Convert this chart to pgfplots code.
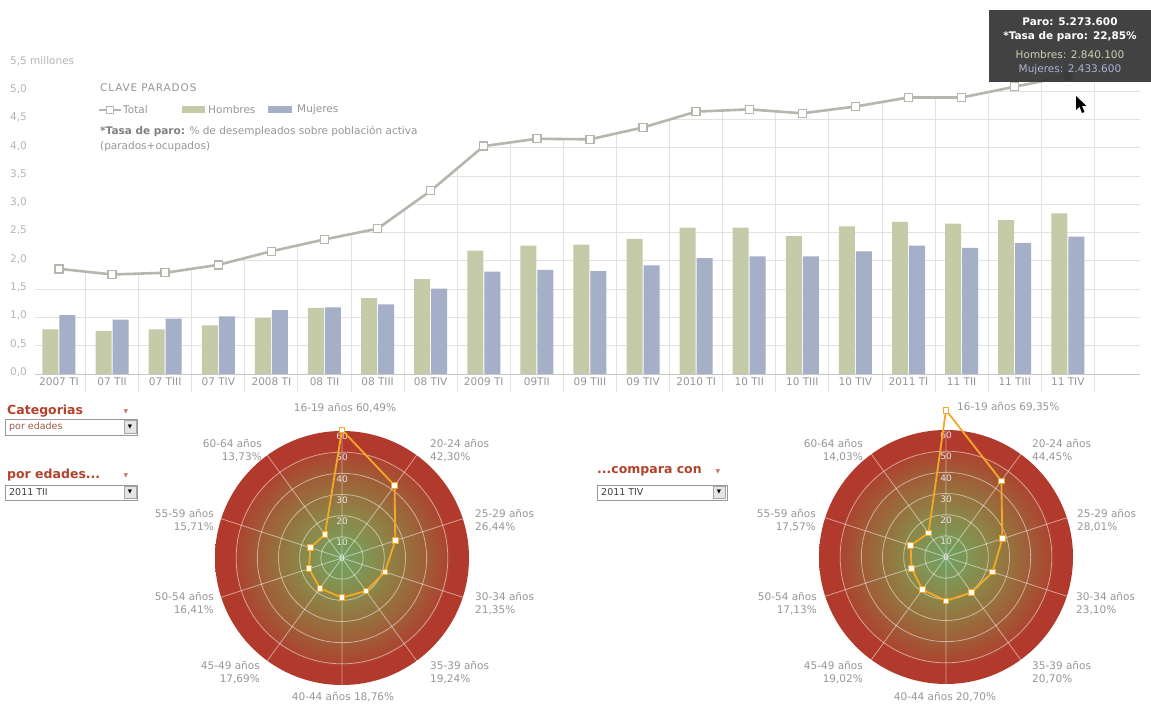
\documentclass[border=0pt]{standalone}
\usepackage{fontspec}
\setmainfont{DejaVu Sans}
\usepackage{pgfplots}
\usepackage{pgfplotstable}
\pgfplotsset{compat=1.18}
\usepgfplotslibrary{polar}

\definecolor{hcol}{RGB}{197,202,168}
\definecolor{mcol}{RGB}{166,175,200}
\definecolor{lcol}{RGB}{182,182,174}
\definecolor{gridc}{RGB}{226,226,226}
\definecolor{txt}{RGB}{150,150,150}
\definecolor{ticktxt}{RGB}{180,180,180}
\definecolor{orng}{RGB}{245,168,40}
\definecolor{ddred}{RGB}{178,66,42}
\definecolor{rg0}{RGB}{112,160,98}
\definecolor{rg1}{RGB}{126,150,85}
\definecolor{rg2}{RGB}{140,134,72}
\definecolor{rg3}{RGB}{150,114,62}
\definecolor{rg4}{RGB}{160,92,55}
\definecolor{rg5}{RGB}{172,68,48}
\definecolor{rg6}{RGB}{178,58,44}
\pgfdeclareradialshading{radar}{\pgfpoint{0bp}{0bp}}{color(0bp)=(rg0); color(4.17bp)=(rg1); color(8.33bp)=(rg2); color(12.5bp)=(rg3); color(16.67bp)=(rg4); color(20.83bp)=(rg5); color(21.3bp)=(rg6); color(25bp)=(rg6); color(50bp)=(rg6)}

% paro por trimestre, millones
\pgfplotstableread{
i total hombres mujeres
0  1.86 0.79 1.04
1  1.76 0.76 0.96
2  1.79 0.79 0.98
3  1.93 0.86 1.02
4  2.17 0.99 1.13
5  2.38 1.17 1.18
6  2.57 1.34 1.23
7  3.24 1.68 1.51
8  4.03 2.18 1.81
9  4.16 2.27 1.84
10 4.15 2.29 1.82
11 4.36 2.39 1.92
12 4.64 2.59 2.05
13 4.68 2.59 2.08
14 4.61 2.44 2.08
15 4.73 2.61 2.17
16 4.89 2.69 2.27
17 4.89 2.66 2.23
18 5.08 2.72 2.32
19 5.27 2.84 2.43
}\paro

\pgfplotsset{
  radar/.style={scale only axis, width=254pt, height=254pt, anchor=center,
    ymin=0, ymax=60, xtick={18,54,90,126,162,198,234,270,306,342},
    ytick={10,20,30,40,50}, major tick length=0,
    xticklabel style={text opacity=0}, yticklabel style={text opacity=0},
    grid=major, major grid style={draw=white, draw opacity=0.5, line width=0.8pt},
    axis line style={draw=none}, clip=false},
  rline/.style={orng, line width=1.8pt, mark=square*, mark size=2.8pt,
    mark options={fill=white, draw=orng, line width=1pt}},
}
\tikzset{
  px/.style={x=1pt, y=1pt},
  rlab/.style={font=\fontsize{9}{10}\selectfont, text=white!80!gray, inner sep=0},
  lab/.style={font=\fontsize{10.5}{13}\selectfont, text=txt, inner sep=0},
  ddtitle/.style={font=\fontsize{12.5}{14}\selectfont\bfseries, text=ddred, inner sep=0, anchor=west},
}

\begin{document}
\begin{tikzpicture}
\useasboundingbox (0pt,0pt) rectangle (1151pt,704pt);
\fill[white] (0pt,0pt) rectangle (1151pt,704pt);

\begin{axis}[at={(35pt,330pt)}, anchor=south west, scale only axis,
  width=1105pt, height=311pt,
  xmin=-0.452, xmax=20.36, ymin=0, ymax=5.5, clip=false,
  axis line style={draw=none}, major tick length=0,
  xtick={0,...,19},
  xticklabels={2007 TI,07 TII,07 TIII,07 TIV,2008 TI,08 TII,08 TIII,08 TIV,2009 TI,09TII,09 TIII,09 TIV,2010 TI,10 TII,10 TIII,10 TIV,2011 TI,11 TII,11 TIII,11 TIV},
  ytick={0,0.5,1,1.5,2,2.5,3,3.5,4,4.5,5},
  yticklabels={{0,0},{0,5},{1,0},{1,5},{2,0},{2,5},{3,0},{3,5},{4,0},{4,5},{5,0}},
  extra y ticks={5.5}, extra y tick labels={5{,}5 millones},
  extra y tick style={grid=none},
  ymajorgrids, major grid style={draw=gridc, line width=0.9pt},
  xticklabel style={font=\fontsize{10.5}{12}\selectfont, text=txt},
  yticklabel style={font=\fontsize{10.5}{12}\selectfont, text=ticktxt, anchor=west, inner sep=0, xshift=-25pt, yshift=2pt},
]
\pgfplotsinvokeforeach{0.5,1.5,...,19.5}{
  \draw[gridc, line width=0.9pt] (axis cs:#1,-0.32) -- (axis cs:#1,5.15);
}
% blanco por encima de la curva
\addplot[fill=white, draw=none] coordinates {
  (-0.452,5.35) (-0.452,1.86) (0,1.86) (1,1.76) (2,1.79) (3,1.93) (4,2.17)
  (5,2.38) (6,2.57) (7,3.24) (8,4.03) (9,4.16) (10,4.15) (11,4.36) (12,4.64)
  (13,4.68) (14,4.61) (15,4.73) (16,4.89) (17,4.89) (18,5.08) (19,5.27)
  (20.36,5.27) (20.36,5.35)};
\draw[black!22, line width=0.9pt] (axis cs:-0.452,0) -- (axis cs:20.36,0);
\addplot[ybar, bar width=16pt, bar shift=-8.5pt, fill=hcol, draw=none] table[x=i, y=hombres] {\paro};
\addplot[ybar, bar width=16pt, bar shift=8.5pt, fill=mcol, draw=none] table[x=i, y=mujeres] {\paro};
\addplot[lcol, line width=2.6pt, mark=square*, mark size=4pt,
  mark options={fill=white, draw=lcol, line width=1.4pt}] table[x=i, y=total] {\paro};
\addplot[only marks, mark=*, mark size=4pt, black!60] coordinates {(19,5.27)};
\end{axis}

\begin{scope}[px]
% leyenda
\node[lab, anchor=west] at (100,616) {\addfontfeature{LetterSpace=8}CLAVE PARADOS};
\draw[lcol, line width=2pt] (99,594) -- (121,594);
\node[draw=lcol, fill=white, line width=1.3pt, minimum size=7pt, inner sep=0] at (110,594) {};
\node[lab, anchor=west] at (123,594) {Total};
\fill[hcol] (182,590.5) rectangle (205,597.5);
\node[lab, anchor=west] at (208,594) {Hombres};
\fill[mcol] (268,590.5) rectangle (292,597.5);
\node[lab, anchor=west] at (297,594) {Mujeres};
\node[lab, anchor=west] at (100,573) {\textcolor{black!50}{\bfseries *Tasa de paro:} \% de desempleados sobre población activa};
\node[lab, anchor=west] at (100,557) {(parados+ocupados)};

% tooltip
\fill[black!78, opacity=0.95] (989,694) rectangle (1151,622);
\node[font=\fontsize{10.5}{12}\selectfont\bfseries, text=white, inner sep=0] at (1070,682) {Paro: 5.273.600};
\node[font=\fontsize{10.5}{12}\selectfont\bfseries, text=white, inner sep=0] at (1070,667) {*Tasa de paro: 22,85\%};
\node[font=\fontsize{10.5}{12}\selectfont, text={rgb,255:red,205;green,207;blue,178}, inner sep=0] at (1070,649) {Hombres: 2.840.100};
\node[font=\fontsize{10.5}{12}\selectfont, text={rgb,255:red,172;green,178;blue,215}, inner sep=0] at (1070,634) {Mujeres: 2.433.600};
\fill[black] (1076,608) -- (1076,594) -- (1079.5,597.5) -- (1082,591) -- (1084.5,592) -- (1082,598) -- (1086.5,598) -- cycle;

% desplegables
\node[ddtitle] at (7,293) {Categorias};
\node[font=\fontsize{6}{7}\selectfont, text=ddred!70] at (126,292) {▼};
\draw[black!40, fill=white] (5,285) rectangle (137,269);
\node[font=\fontsize{9.5}{11}\selectfont, text={rgb,255:red,160;green,90;blue,70}, anchor=west, inner sep=0] at (9,277) {por edades};
\draw[black!35, fill=black!10] (124,283.5) rectangle (136,270.5);
\node[font=\fontsize{5.5}{6}\selectfont, inner sep=0] at (130,277) {▼};

\node[ddtitle] at (7,229) {por edades...};
\node[font=\fontsize{6}{7}\selectfont, text=ddred!70] at (126,228) {▼};
\draw[black!40, fill=white] (5,219) rectangle (137,204);
\node[font=\fontsize{9.5}{11}\selectfont, text=black!75, anchor=west, inner sep=0] at (9,211.5) {2011 TII};
\draw[black!35, fill=black!10] (124,217.5) rectangle (136,205.5);
\node[font=\fontsize{5.5}{6}\selectfont, inner sep=0] at (130,211.5) {▼};

\node[ddtitle] at (597,233) {...compara con};
\node[font=\fontsize{6}{7}\selectfont, text=ddred!70] at (718,232) {▼};
\draw[black!40, fill=white] (597,219) rectangle (727,204);
\node[font=\fontsize{9.5}{11}\selectfont, text=black!75, anchor=west, inner sep=0] at (601,211.5) {2011 TIV};
\draw[black!35, fill=black!10] (713,217.5) rectangle (725,205.5);
\node[font=\fontsize{5.5}{6}\selectfont, inner sep=0] at (719,211.5) {▼};

\shade[shading=radar] (342,146) circle[radius=127];
\shade[shading=radar] (946,147) circle[radius=127];
\end{scope}

% radar izquierdo: 2011 TII
\begin{polaraxis}[radar, at={(342pt,146pt)}]
\node[rlab] at (axis cs:0,0) {0};
\pgfplotsinvokeforeach{10,20,30,40,50,60}{\node[rlab] at (axis cs:90,#1-2.6) {#1};}
\addplot[rline] coordinates {(90,60.49) (54,42.30) (18,26.44) (342,21.35) (306,19.24)
  (270,18.76) (234,17.69) (198,16.41) (162,15.71) (126,13.73) (90,60.49)};
\end{polaraxis}

% radar derecho: 2011 TIV
\begin{polaraxis}[radar, at={(946pt,147pt)}]
\node[rlab] at (axis cs:0,0) {0};
\pgfplotsinvokeforeach{10,20,30,40,50,60}{\node[rlab] at (axis cs:90,#1-2.6) {#1};}
\addplot[rline] coordinates {(90,69.35) (54,44.45) (18,28.01) (342,23.10) (306,20.70)
  (270,20.70) (234,19.02) (198,17.13) (162,17.57) (126,14.03) (90,69.35)};
\end{polaraxis}

\begin{scope}[px]
\node[lab] at (345,296) {16-19 años 60,49\%};
\node[lab, anchor=west, align=left] at (430,253) {20-24 años\\42,30\%};
\node[lab, anchor=west, align=left] at (475,183) {25-29 años\\26,44\%};
\node[lab, anchor=west, align=left] at (475,100.5) {30-34 años\\21,35\%};
\node[lab, anchor=west, align=left] at (430,31.5) {35-39 años\\19,24\%};
\node[lab] at (343,7) {40-44 años 18,76\%};
\node[lab, anchor=east, align=right] at (260,31.5) {45-49 años\\17,69\%};
\node[lab, anchor=east, align=right] at (214,100.5) {50-54 años\\16,41\%};
\node[lab, anchor=east, align=right] at (214,183) {55-59 años\\15,71\%};
\node[lab, anchor=east, align=right] at (262,253) {60-64 años\\13,73\%};

\node[lab, anchor=west] at (957,297) {16-19 años 69,35\%};
\node[lab, anchor=west, align=left] at (1032,253) {20-24 años\\44,45\%};
\node[lab, anchor=west, align=left] at (1077,183) {25-29 años\\28,01\%};
\node[lab, anchor=west, align=left] at (1076,100.5) {30-34 años\\23,10\%};
\node[lab, anchor=west, align=left] at (1032,31.5) {35-39 años\\20,70\%};
\node[lab] at (945,7) {40-44 años 20,70\%};
\node[lab, anchor=east, align=right] at (863,31.5) {45-49 años\\19,02\%};
\node[lab, anchor=east, align=right] at (817,100.5) {50-54 años\\17,13\%};
\node[lab, anchor=east, align=right] at (816,183) {55-59 años\\17,57\%};
\node[lab, anchor=east, align=right] at (863,253) {60-64 años\\14,03\%};
\end{scope}
\end{tikzpicture}
\end{document}
